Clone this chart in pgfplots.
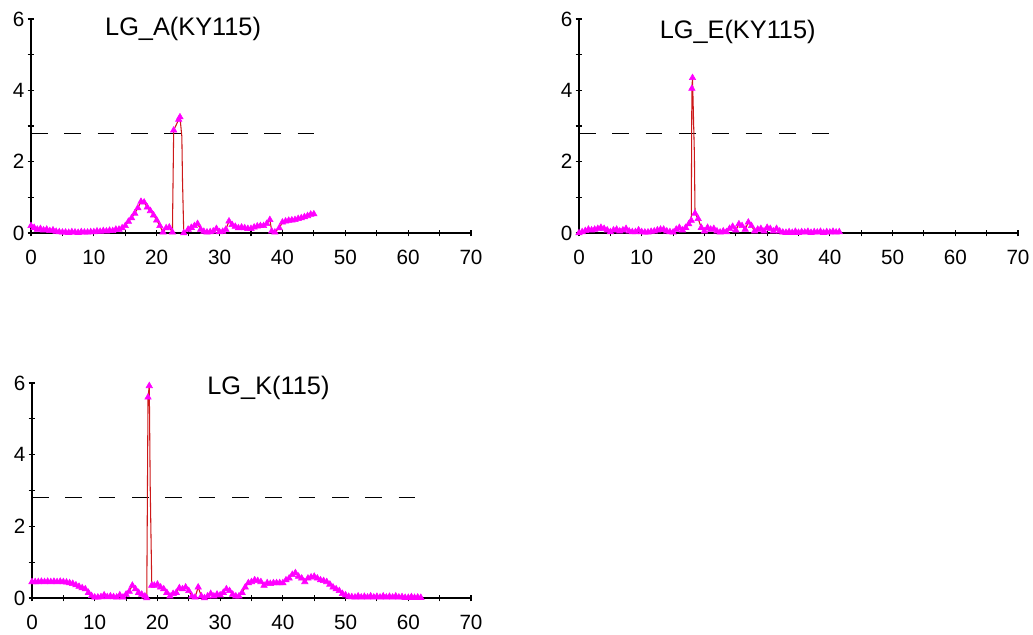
\documentclass[border=0pt]{standalone}
\usepackage{fontspec}
\setmainfont{Liberation Sans}
\usepackage{pgfplots}
\pgfplotsset{compat=1.18}
\definecolor{lodred}{RGB}{205,25,25}
\definecolor{lodmag}{RGB}{255,0,255}
\pgfplotsset{lodaxis/.style={
  scale only axis, anchor=south west,
  axis lines=left, axis line style={-, line width=0.8pt, black},
  xmin=0, xmax=70, ymin=0, ymax=6,
  xtick={0,10,...,70}, minor xtick={5,15,...,65},
  ytick={0,2,4,6}, minor ytick={1,3,5},
  tick align=center, major tick length=5pt, minor tick length=5pt,
  every tick/.style={black, line width=0.8pt},
  every minor tick/.style={black, line width=0.8pt},
  tick label style={font=\fontsize{15.5}{17}\selectfont},
  xticklabel style={yshift=-7pt},
  yticklabel style={xshift=1pt},
  /pgf/number format/assume math mode=true,
  clip=false,
},
lodline/.style={lodred, line width=0.8pt, no marks},
lodmarks/.style={only marks, mark=triangle*, mark size=2.8pt, mark options={lodmag, draw=lodmag, fill=lodmag}},
thr/.style={black, line width=0.9pt, dash pattern=on 12.5pt off 12.5pt, no marks},
}
\pgfplotstableread{
x y
0 0.20
0.5 0.15
1 0.10
1.5 0.12
2 0.08
2.5 0.10
3 0.06
3.5 0.08
4 0.04
4.5 0.03
5 0.02
5.5 0.02
6 0.01
6.5 0.03
7 0.02
7.5 0.01
8 0.03
8.5 0.02
9 0.02
9.5 0.03
10 0.03
10.5 0.05
11 0.04
11.5 0.06
12 0.05
12.5 0.07
13 0.06
13.5 0.10
14 0.10
14.5 0.14
15 0.20
15.5 0.32
16 0.42
16.5 0.55
17 0.70
17.5 0.88
18 0.86
18.5 0.72
19 0.62
19.5 0.50
20 0.36
20.5 0.20
21 0.02
21.5 0.14
22 0.16
22.5 0.02
22.6 1.45
22.7 2.88
23.5 3.18
23.7 3.25
24.0 2.70
24.1 1.50
24.3 0.00
25 0.10
25.5 0.15
26 0.20
26.5 0.26
27 0.10
27.5 0.04
28 0.02
28.5 0.03
29 0.05
29.5 0.12
30 0.03
30.5 0.04
31 0.10
31.5 0.33
32 0.23
32.5 0.18
33 0.14
33.5 0.16
34 0.14
34.5 0.12
35 0.12
35.5 0.16
36 0.19
36.5 0.20
37 0.20
37.5 0.26
38 0.37
38.3 0.05
38.8 0.02
39.5 0.14
40 0.30
40.5 0.33
41 0.35
41.5 0.36
42 0.37
42.5 0.40
43 0.42
43.5 0.45
44 0.48
44.5 0.52
45 0.53
}\lineA
\pgfplotstableread{
x y
0 0.20
0.5 0.15
1 0.10
1.5 0.12
2 0.08
2.5 0.10
3 0.06
3.5 0.08
4 0.04
4.5 0.03
5 0.02
5.5 0.02
6 0.01
6.5 0.03
7 0.02
7.5 0.01
8 0.03
8.5 0.02
9 0.02
9.5 0.03
10 0.03
10.5 0.05
11 0.04
11.5 0.06
12 0.05
12.5 0.07
13 0.06
13.5 0.10
14 0.10
14.5 0.14
15 0.20
15.5 0.32
16 0.42
16.5 0.55
17 0.70
17.5 0.88
18 0.86
18.5 0.72
19 0.62
19.5 0.50
20 0.36
20.5 0.20
21 0.02
21.5 0.14
22 0.16
22.5 0.02
22.7 2.88
23.5 3.18
23.7 3.25
24.3 0.00
25 0.10
25.5 0.15
26 0.20
26.5 0.26
27 0.10
27.5 0.04
28 0.02
28.5 0.03
29 0.05
29.5 0.12
30 0.03
30.5 0.04
31 0.10
31.5 0.33
32 0.23
32.5 0.18
33 0.14
33.5 0.16
34 0.14
34.5 0.12
35 0.12
35.5 0.16
36 0.19
36.5 0.20
37 0.20
37.5 0.26
38 0.37
38.3 0.05
38.8 0.02
39.5 0.14
40 0.30
40.5 0.33
41 0.35
41.5 0.36
42 0.37
42.5 0.40
43 0.42
43.5 0.45
44 0.48
44.5 0.52
45 0.53
}\marksA
\pgfplotstableread{
x y
0 0.00
0.5 0.03
1 0.06
1.5 0.10
2 0.08
2.5 0.10
3 0.12
3.5 0.15
4 0.12
4.5 0.08
5 0.03
5.5 0.08
6 0.10
6.5 0.05
7 0.08
7.5 0.12
8 0.05
8.5 0.03
9 0.03
9.5 0.08
10 0.03
10.5 0.02
11 0.02
11.5 0.04
12 0.05
12.5 0.08
13 0.10
13.5 0.10
14 0.05
14.5 0.03
15 0.02
15.5 0.10
16 0.15
16.5 0.08
17 0.15
17.5 0.25
17.9 0.35
18.0 4.05
18.1 4.35
18.4 2.20
18.5 0.55
19 0.40
19.5 0.15
20 0.05
20.5 0.15
21 0.10
21.5 0.12
22 0.05
22.5 0.02
23 0.05
23.5 0.03
24 0.12
24.5 0.18
25 0.08
25.5 0.25
26 0.20
26.5 0.10
27 0.30
27.5 0.20
28 0.05
28.5 0.10
29 0.12
29.5 0.05
30 0.15
30.5 0.12
31 0.05
31.5 0.12
32 0.05
32.5 0.02
33 0.01
33.5 0.03
34 0.01
34.5 0.04
35 0.01
35.5 0.03
36 0.02
36.5 0.04
37 0.01
37.5 0.03
38 0.02
38.5 0.04
39 0.01
39.5 0.03
40 0.02
40.5 0.04
41 0.02
41.5 0.03
}\lineE
\pgfplotstableread{
x y
0 0.00
0.5 0.03
1 0.06
1.5 0.10
2 0.08
2.5 0.10
3 0.12
3.5 0.15
4 0.12
4.5 0.08
5 0.03
5.5 0.08
6 0.10
6.5 0.05
7 0.08
7.5 0.12
8 0.05
8.5 0.03
9 0.03
9.5 0.08
10 0.03
10.5 0.02
11 0.02
11.5 0.04
12 0.05
12.5 0.08
13 0.10
13.5 0.10
14 0.05
14.5 0.03
15 0.02
15.5 0.10
16 0.15
16.5 0.08
17 0.15
17.5 0.25
17.9 0.35
18.0 4.05
18.1 4.35
18.5 0.55
19 0.40
19.5 0.15
20 0.05
20.5 0.15
21 0.10
21.5 0.12
22 0.05
22.5 0.02
23 0.05
23.5 0.03
24 0.12
24.5 0.18
25 0.08
25.5 0.25
26 0.20
26.5 0.10
27 0.30
27.5 0.20
28 0.05
28.5 0.10
29 0.12
29.5 0.05
30 0.15
30.5 0.12
31 0.05
31.5 0.12
32 0.05
32.5 0.02
33 0.01
33.5 0.03
34 0.01
34.5 0.04
35 0.01
35.5 0.03
36 0.02
36.5 0.04
37 0.01
37.5 0.03
38 0.02
38.5 0.04
39 0.01
39.5 0.03
40 0.02
40.5 0.04
41 0.02
41.5 0.03
}\marksE
\pgfplotstableread{
x y
0 0.45
0.5 0.45
1 0.45
1.5 0.46
2 0.45
2.5 0.46
3 0.45
3.5 0.46
4 0.45
4.5 0.46
5 0.45
5.5 0.44
6 0.42
6.5 0.40
7 0.36
7.5 0.32
8 0.28
8.5 0.25
9 0.15
9.5 0.06
10 0.02
10.5 0.02
11 0.03
11.5 0.08
12 0.03
12.5 0.05
13 0.03
13.5 0.02
14 0.08
14.5 0.02
15 0.10
15.5 0.18
16 0.35
16.5 0.25
17 0.15
17.5 0.10
18 0.05
18.3 0.00
18.5 5.60
18.7 5.92
18.85 3.10
19.1 0.35
19.5 0.35
20 0.38
20.5 0.30
21 0.25
21.5 0.15
22 0.05
22.5 0.12
23 0.15
23.5 0.28
24 0.25
24.5 0.30
25 0.20
25.5 0.05
26 0.02
26.5 0.30
27 0.05
27.5 0.00
28 0.05
28.5 0.12
29 0.05
29.5 0.10
30 0.08
30.5 0.15
31 0.25
31.5 0.20
32 0.10
32.5 0.05
33 0.05
33.5 0.15
34 0.30
34.5 0.42
35 0.45
35.5 0.50
36 0.48
36.5 0.45
37 0.35
37.5 0.42
38 0.40
38.5 0.42
39 0.42
39.5 0.42
40 0.42
40.5 0.50
41 0.55
41.5 0.65
42 0.70
42.5 0.60
43 0.55
43.5 0.45
44 0.55
44.5 0.58
45 0.60
45.5 0.55
46 0.50
46.5 0.48
47 0.45
47.5 0.38
48 0.30
48.5 0.25
49 0.20
49.5 0.12
50 0.08
50.5 0.04
51 0.03
51.5 0.02
52 0.05
52.5 0.02
53 0.04
53.5 0.02
54 0.05
54.5 0.02
55 0.04
55.5 0.02
56 0.05
56.5 0.02
57 0.04
57.5 0.02
58 0.05
58.5 0.02
59 0.03
59.5 0.01
60 0.01
60.5 0.03
61 0.01
61.5 0.02
62 0.01
}\lineK
\pgfplotstableread{
x y
0 0.45
0.5 0.45
1 0.45
1.5 0.46
2 0.45
2.5 0.46
3 0.45
3.5 0.46
4 0.45
4.5 0.46
5 0.45
5.5 0.44
6 0.42
6.5 0.40
7 0.36
7.5 0.32
8 0.28
8.5 0.25
9 0.15
9.5 0.06
10 0.02
10.5 0.02
11 0.03
11.5 0.08
12 0.03
12.5 0.05
13 0.03
13.5 0.02
14 0.08
14.5 0.02
15 0.10
15.5 0.18
16 0.35
16.5 0.25
17 0.15
17.5 0.10
18 0.05
18.3 0.00
18.5 5.60
18.7 5.92
19.1 0.35
19.5 0.35
20 0.38
20.5 0.30
21 0.25
21.5 0.15
22 0.05
22.5 0.12
23 0.15
23.5 0.28
24 0.25
24.5 0.30
25 0.20
25.5 0.05
26 0.02
26.5 0.30
27 0.05
27.5 0.00
28 0.05
28.5 0.12
29 0.05
29.5 0.10
30 0.08
30.5 0.15
31 0.25
31.5 0.20
32 0.10
32.5 0.05
33 0.05
33.5 0.15
34 0.30
34.5 0.42
35 0.45
35.5 0.50
36 0.48
36.5 0.45
37 0.35
37.5 0.42
38 0.40
38.5 0.42
39 0.42
39.5 0.42
40 0.42
40.5 0.50
41 0.55
41.5 0.65
42 0.70
42.5 0.60
43 0.55
43.5 0.45
44 0.55
44.5 0.58
45 0.60
45.5 0.55
46 0.50
46.5 0.48
47 0.45
47.5 0.38
48 0.30
48.5 0.25
49 0.20
49.5 0.12
50 0.08
50.5 0.04
51 0.03
51.5 0.02
52 0.05
52.5 0.02
53 0.04
53.5 0.02
54 0.05
54.5 0.02
55 0.04
55.5 0.02
56 0.05
56.5 0.02
57 0.04
57.5 0.02
58 0.05
58.5 0.02
59 0.03
59.5 0.01
60 0.01
60.5 0.03
61 0.01
61.5 0.02
62 0.01
}\marksK
\begin{document}
\begin{tikzpicture}
\path[use as bounding box] (0,0) rectangle (774.75pt,476.25pt);
% Panel A
\begin{axis}[lodaxis, at={(23.25pt,301.5pt)}, width=330pt, height=160.5pt]
\addplot[thr] coordinates {(0,2.8) (45,2.8)};
\addplot[lodline] table {\lineA};
\addplot[lodmarks] table {\marksA};
\node[anchor=base, font=\fontsize{19}{22}\selectfont] at (axis cs:24.2,5.55) {LG\_A(KY115)};
\end{axis}
% Panel E
\begin{axis}[lodaxis, at={(434.25pt,301.5pt)}, width=329.25pt, height=160.5pt]
\addplot[thr] coordinates {(0,2.8) (41,2.8)};
\addplot[lodline] table {\lineE};
\addplot[lodmarks] table {\marksE};
\node[anchor=base, font=\fontsize{19}{22}\selectfont] at (axis cs:25.3,5.44) {LG\_E(KY115)};
\end{axis}
% Panel K
\begin{axis}[lodaxis, at={(24pt,27.75pt)}, width=329.25pt, height=161.25pt]
\addplot[thr] coordinates {(0,2.8) (62,2.8)};
\addplot[lodline] table {\lineK};
\addplot[lodmarks] table {\marksK};
\node[anchor=base, font=\fontsize{19}{22}\selectfont] at (axis cs:37.7,5.67) {LG\_K(115)};
\end{axis}
\end{tikzpicture}
\end{document}
